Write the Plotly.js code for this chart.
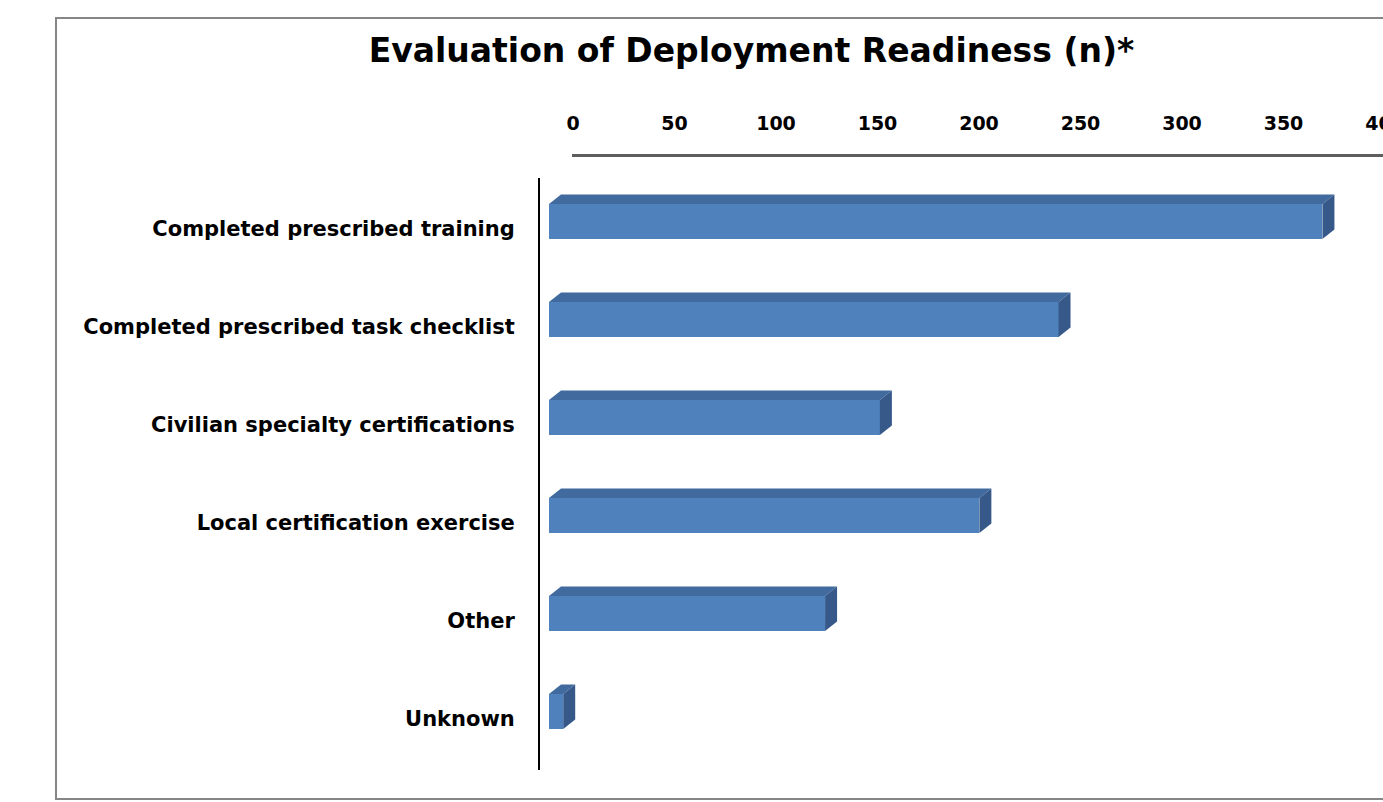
<!DOCTYPE html>
<html>
<head>
<meta charset="utf-8">
<script src="https://cdn.plot.ly/plotly-3.0.1.min.js"></script>
<style>
html,body{margin:0;padding:0;overflow:hidden;background:#fff;}
#chart{width:1420px;height:802px;}
</style>
</head>
<body>
<div id="chart"></div>
<script>
// ---- data ----
const categories = [
  "Completed prescribed training",
  "Completed prescribed task checklist",
  "Civilian specialty certifications",
  "Local certification exercise",
  "Other",
  "Unknown"
];
const counts = [381, 251, 163, 212, 136, 7];
const tickValues = [0, 50, 100, 150, 200, 250, 300, 350, 400];

// ---- geometry / style ----
const W = 1420, H = 802;
const pxPerUnit = 2.03;
const barHalf = 0.1786;      // half bar thickness in category units
const depthX = 12 / pxPerUnit; // 3D depth offset in value units
const depthY = 9.5 / 98;       // 3D depth offset in category units
const FRONT = "#4F81BD", TOP = "#416A9E", SIDE = "#36598A";
const FONT = "'DejaVu Sans', sans-serif";

const idx = categories.map((c, i) => i);

const traces = [{
  type: "bar", orientation: "h",
  x: counts, y: idx, width: barHalf * 2,
  marker: {color: FRONT, line: {width: 0}},
  hoverinfo: "x", xaxis: "x", yaxis: "y"
}];

counts.forEach((v, i) => {
  const yt = i - barHalf, yb = i + barHalf;
  traces.push({
    type: "scatter", mode: "lines", fill: "toself",
    x: [0, depthX, v + depthX, v, 0],
    y: [yt, yt - depthY, yt - depthY, yt, yt],
    line: {width: 0, color: TOP}, fillcolor: TOP,
    hoverinfo: "skip", showlegend: false, xaxis: "x", yaxis: "y"
  });
  traces.push({
    type: "scatter", mode: "lines", fill: "toself",
    x: [v, v + depthX, v + depthX, v, v],
    y: [yt, yt - depthY, yb - depthY, yb, yt],
    line: {width: 0, color: SIDE}, fillcolor: SIDE,
    hoverinfo: "skip", showlegend: false, xaxis: "x", yaxis: "y"
  });
});

// dummy (empty) trace so the top value axis gets its own subplot
traces.push({type: "scatter", x: [], y: [], xaxis: "x2", yaxis: "y", hoverinfo: "skip", showlegend: false});

const yTopPx = 178, yBotPx = 770, firstCenterPx = 221.5, stepPx = 98;
const xLeftPx = 540, zeroPx = 549;
const axisLinePx = 155, axisZeroPx = 573, axisStartPx = 572;

const layout = {
  width: W, height: H,
  margin: {l: 0, r: 0, t: 0, b: 0},
  paper_bgcolor: "#fff", plot_bgcolor: "rgba(0,0,0,0)",
  showlegend: false,
  bargap: 0,
  title: {
    text: "Evaluation of Deployment Readiness (n)*",
    x: 751.5 / W, xanchor: "center", xref: "paper",
    y: 1 - 50 / H, yanchor: "middle", yref: "paper",
    font: {family: FONT, size: 33, color: "#000", weight: 700}
  },
  xaxis: {
    domain: [xLeftPx / W, 1],
    range: [-(zeroPx - xLeftPx) / pxPerUnit, (W - zeroPx) / pxPerUnit],
    visible: false, fixedrange: true
  },
  xaxis2: {
    domain: [axisStartPx / W, 1],
    range: [(axisStartPx - axisZeroPx) / pxPerUnit, (W - axisZeroPx) / pxPerUnit],
    anchor: "free", position: 1 - axisLinePx / H, side: "top",
    tickmode: "array", tickvals: tickValues, ticktext: tickValues.map(String),
    showline: true, linecolor: "#5e5e5e", linewidth: 3,
    showgrid: false, zeroline: false, ticks: "",
    ticklabelstandoff: 16,
    tickfont: {family: FONT, size: 19, color: "#000", weight: 700},
    fixedrange: true
  },
  yaxis: {
    domain: [1 - yBotPx / H, 1 - yTopPx / H],
    range: [(yBotPx - firstCenterPx) / stepPx, (yTopPx - firstCenterPx) / stepPx],
    tickmode: "array", tickvals: idx, ticktext: categories,
    showline: true, linecolor: "#000", linewidth: 2,
    showgrid: false, zeroline: false, ticks: "",
    ticklabelstandoff: 19, ticklabelshift: -7,
    tickfont: {family: FONT, size: 21, color: "#000", weight: 700},
    fixedrange: true
  },
  shapes: [{
    type: "rect", xref: "paper", yref: "paper",
    x0: 56 / W, x1: 1.2, y0: 1 - 799 / H, y1: 1 - 18 / H,
    line: {color: "#868686", width: 2}, fillcolor: "rgba(0,0,0,0)", layer: "below"
  }]
};

Plotly.newPlot("chart", traces, layout, {displayModeBar: false, staticPlot: true});
</script>
</body>
</html>
